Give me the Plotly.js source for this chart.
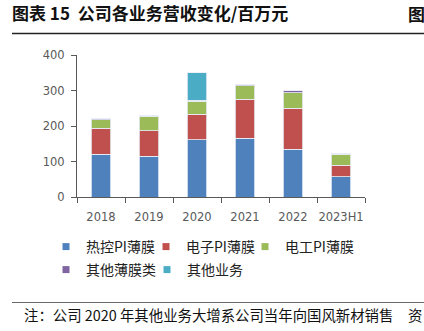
<!DOCTYPE html>
<html><head><meta charset="utf-8">
<script src="https://cdn.plot.ly/plotly-3.0.1.min.js"></script>
<style>html,body{margin:0;padding:0;background:#fff;}#chart{width:424px;height:331px;}</style>
</head><body><div id="chart"></div>
<script>
var categories = ['2018','2019','2020','2021','2022','2023H1'];
var seriesNames = ['热控PI薄膜','电子PI薄膜','电工PI薄膜','其他薄膜类','其他业务'];
var thermalPI = [121, 115, 161, 166, 134, 57];
var electronicPI = [72, 72, 72, 109, 116, 32];
var electricalPI = [24, 40, 37, 38, 44, 31];
var otherFilm = [3, 4, 2, 5, 6, 3];
var otherBiz = [0, 0, 78, 0, 0, 0];
var colors = ['#4F81BD','#C0504D','#9BBB59','#8064A2','#4BACC6'];
var series = [thermalPI, electronicPI, electricalPI, otherFilm, otherBiz];
var yTicks = [0,100,200,300,400];

var cjk = '"Noto Sans CJK SC", "Noto Sans", sans-serif';
var legendIds = ['legend','legend2','legend3','legend4','legend5'];
// legend entry anchor positions in pixels (left edge, vertical centre)
var legendPos = [[46,247],[146,247],[245,247],[46,270],[147,270]];
var traces = [];
series.forEach(function(vals, i){
  traces.push({type:'bar', x:categories, y:vals, name:seriesNames[i], showlegend:false,
    marker:{color:colors[i], line:{color:'#e8eef8', width:0.8}}, width:0.4, hoverinfo:'skip'});
});
series.forEach(function(vals, i){
  traces.push({type:'scatter', mode:'markers', x:[null], y:[null], name:seriesNames[i], legend:legendIds[i],
    marker:{symbol:'square', size:7, color:colors[i]}, hoverinfo:'skip'});
});

var layout = {
  width:424, height:331,
  margin:{l:77, r:59, t:55, b:134},
  paper_bgcolor:'#fff', plot_bgcolor:'#fff',
  barmode:'stack',
  font:{family:cjk, color:'#595959', size:12},
  xaxis:{type:'category', showline:true, linecolor:'#595959', linewidth:1, ticks:'outside', tickson:'boundaries',
    ticklen:5, tickcolor:'#595959', tickangle:0, ticklabelstandoff:9,
    tickfont:{family:'"DejaVu Sans", sans-serif', size:11.5, color:'#595959'}, showgrid:false, zeroline:false},
  yaxis:{range:[0,400], tickvals:yTicks, showline:true, linecolor:'#595959', linewidth:1, ticks:'outside', ticklen:5,
    ticklabelstandoff:4,
    tickcolor:'#595959', tickfont:{family:'"DejaVu Sans", sans-serif', size:11.5, color:'#595959'}, showgrid:false, zeroline:false},
  title:{text:'<b>图表 15  公司各业务营收变化/百万元</b>', xref:'container', yref:'container', x:12/424, xanchor:'left',
    y:1-14/331, yanchor:'middle', font:{family:cjk, size:17, color:'#111'}},
  annotations:[
    {text:'<b>图</b>', xref:'paper', yref:'paper', x:(406-77)/288, xanchor:'left', y:1+(55-14)/142, yanchor:'middle', showarrow:false,
      font:{family:cjk, size:17, color:'#111'}},
    {text:'注：公司 2020 年其他业务大增系公司当年向国风新材销售', xref:'paper', yref:'paper', x:(22-77)/288, xanchor:'left',
      y:-(314-197)/142, yanchor:'middle', showarrow:false, font:{family:cjk, size:14.4, color:'#111'}},
    {text:'资', xref:'paper', yref:'paper', x:(406-77)/288, xanchor:'left',
      y:-(314-197)/142, yanchor:'middle', showarrow:false, font:{family:cjk, size:14.4, color:'#111'}}
  ],
  shapes:[
    {type:'line', xref:'paper', yref:'paper', x0:(12-77)/288, x1:(430-77)/288, y0:1+(55-33.5)/142, y1:1+(55-33.5)/142, line:{color:'#222', width:1.3}},
    {type:'line', xref:'paper', yref:'paper', x0:(12-77)/288, x1:(430-77)/288, y0:-(302.5-197)/142, y1:-(302.5-197)/142, line:{color:'#444', width:0.8}}
  ]
};
legendIds.forEach(function(id, i){
  layout[id] = {x:(legendPos[i][0]-77)/288, y:-(legendPos[i][1]-197)/142, xanchor:'left', yanchor:'middle',
    font:{family:cjk, size:14, color:'#222'}, bgcolor:'rgba(0,0,0,0)'};
});
Plotly.newPlot('chart', traces, layout, {displayModeBar:false, staticPlot:true});
</script></body></html>
